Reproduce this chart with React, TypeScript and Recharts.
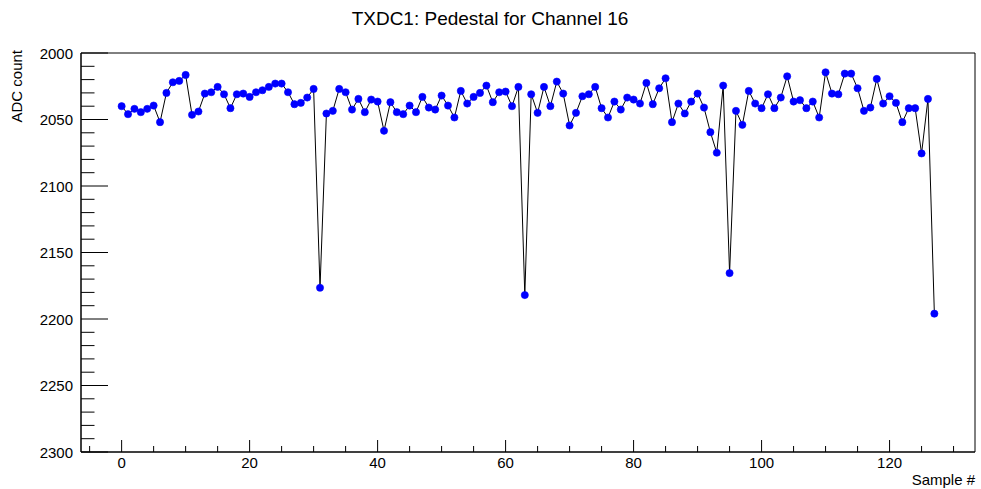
import React from "react";
import { LineChart, Line, XAxis, YAxis, ReferenceArea } from "recharts";

const TITLE = "TXDC1: Pedestal for Channel 16";
const X_TITLE = "Sample #";
const Y_TITLE = "ADC count";

const adcValues: number[] = [
  2040, 2046, 2042, 2044.5, 2042, 2039.5, 2052, 2030, 2022, 2021,
  2016.5, 2046.5, 2044, 2030.5, 2029.5, 2025.5, 2031, 2041.5, 2031, 2030.5,
  2033, 2029.5, 2028, 2025.5, 2023, 2023, 2029.5, 2038.5, 2037.5, 2033.5,
  2027, 2176.5, 2045.5, 2043.5, 2027, 2029.5, 2042.5, 2034.5, 2044.5, 2035,
  2036.5, 2058.5, 2037, 2044.5, 2046, 2039.5, 2044.5, 2033, 2041, 2042.5,
  2032, 2039.5, 2048.5, 2028.5, 2038, 2033, 2030, 2024.5, 2037, 2029.5,
  2029, 2040, 2025.5, 2182, 2031, 2045, 2025.5, 2040, 2021.5, 2030.5,
  2054.5, 2045, 2032.5, 2031, 2025.5, 2041.5, 2048.5, 2036.5, 2042.5, 2033.5,
  2035, 2038, 2022.5, 2038.5, 2026.5, 2019, 2052, 2038, 2045.5, 2036.5,
  2030.5, 2041, 2059.5, 2075, 2024.5, 2165.5, 2043.5, 2054, 2028.5, 2038,
  2041.5, 2031, 2041.5, 2033.5, 2017.5, 2036.5, 2035.5, 2041.5, 2036.5, 2048.5,
  2014.5, 2030.5, 2031, 2015.5, 2015.5, 2026.5, 2043.5, 2041, 2019.5, 2038,
  2032.5, 2037.5, 2052, 2041.5, 2041.5, 2075.5, 2034.5, 2196,
];

const xTicks: number[] = [
  -5, 0, 5, 10, 15, 20, 25, 30, 35, 40, 45, 50, 55, 60, 65, 70, 75, 80, 85,
  90, 95, 100, 105, 110, 115, 120, 125, 130,
];
const yTicks: number[] = [
  2000, 2010, 2020, 2030, 2040, 2050, 2060, 2070, 2080, 2090, 2100, 2110,
  2120, 2130, 2140, 2150, 2160, 2170, 2180, 2190, 2200, 2210, 2220, 2230,
  2240, 2250, 2260, 2270, 2280, 2290, 2300,
];
const xDomain: [number, number] = [-6.35, 133.35];
const yDomain: [number, number] = [2000, 2300];

const data = adcValues.map((v, i) => ({ sample: i, adc: v }));

const FONT = "'Liberation Sans', Arial, Helvetica, sans-serif";

const XTick = (props: any) => {
  const { x, y, payload } = props;
  const v = payload.value as number;
  const major = v % 20 === 0;
  return (
    <g>
      <line x1={x} x2={x} y1={y} y2={y - (major ? 12 : 6)} stroke="#000" strokeWidth={1} />
      {major && (
        <text x={x} y={y + 16} textAnchor="middle" fontSize={15} fill="#000" fontFamily={FONT}>
          {v}
        </text>
      )}
    </g>
  );
};

const YTick = (props: any) => {
  const { x, y, payload } = props;
  const v = payload.value as number;
  const major = (v - 2000) % 50 === 0;
  return (
    <g>
      <line x1={x} x2={x + (major ? 27 : 13.5)} y1={y} y2={y} stroke="#000" strokeWidth={1} />
      {major && (
        <text x={x - 8} y={y + 5.5} textAnchor="end" fontSize={15} fill="#000" fontFamily={FONT}>
          {v}
        </text>
      )}
    </g>
  );
};

export default function App() {
  return (
    <div style={{ position: "absolute", left: 0, top: 0, width: 981, height: 489, background: "#fff" }}>
      <LineChart
        width={981}
        height={489}
        data={data}
        margin={{ top: 53, right: 6, bottom: 0, left: 0 }}
      >
        <XAxis
          dataKey="sample"
          type="number"
          domain={xDomain}
          ticks={xTicks}
          interval={0}
          allowDataOverflow
          height={37}
          tickSize={0}
          tickMargin={0}
          tickLine={false}
          axisLine={{ stroke: "#000", strokeWidth: 1 }}
          tick={<XTick />}
        />
        <YAxis
          type="number"
          domain={yDomain}
          reversed
          ticks={yTicks}
          interval={0}
          allowDataOverflow
          width={81}
          tickSize={0}
          tickMargin={0}
          tickLine={false}
          axisLine={{ stroke: "#000", strokeWidth: 1 }}
          tick={<YTick />}
        />
        <ReferenceArea
          x1={xDomain[0]}
          x2={xDomain[1]}
          y1={yDomain[0]}
          y2={yDomain[1]}
          fill="none"
          stroke="#000"
          strokeWidth={1}
          ifOverflow="visible"
        />
        <Line
          dataKey="adc"
          type="linear"
          stroke="#000"
          strokeWidth={1}
          dot={{ r: 3.6, fill: "#0000ff", stroke: "#0000ff", strokeWidth: 0.6 }}
          activeDot={false}
          isAnimationActive={false}
        />
        <text x={490} y={25} textAnchor="middle" fontSize={19} fill="#000" fontFamily={FONT}>
          {TITLE}
        </text>
        <text x={975} y={485} textAnchor="end" fontSize={15} fill="#000" fontFamily={FONT}>
          {X_TITLE}
        </text>
        <text
          x={22}
          y={50}
          transform="rotate(-90 22 50)"
          textAnchor="end"
          fontSize={15}
          fill="#000"
          fontFamily={FONT}
        >
          {Y_TITLE}
        </text>
      </LineChart>
    </div>
  );
}
